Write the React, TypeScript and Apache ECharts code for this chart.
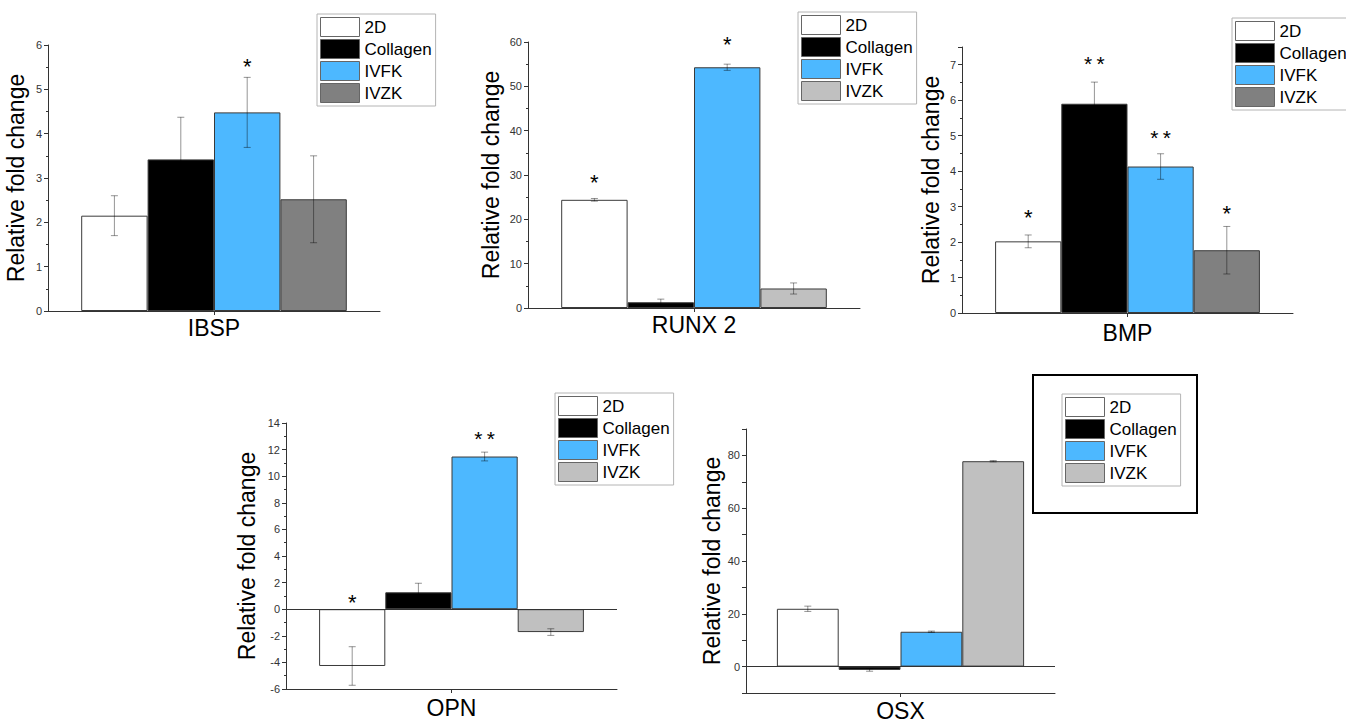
import React, { useEffect, useRef } from 'react';
import * as echarts from 'echarts';

const groups = ['2D', 'Collagen', 'IVFK', 'IVZK'];
const genes = ['IBSP', 'RUNX 2', 'BMP', 'OPN', 'OSX'];

const ibspValues = [2.15, 3.42, 4.48, 2.52];
const ibspErrors = [0.45, 0.95, 0.79, 0.98];
const runxValues = [24.4, 1.3, 54.3, 4.4];
const runxErrors = [0.3, 0.7, 0.7, 1.25];
const bmpValues = [2.02, 5.9, 4.13, 1.77];
const bmpErrors = [0.18, 0.61, 0.36, 0.67];
const opnValues = [-4.27, 1.27, 11.48, -1.72];
const opnErrors = [1.45, 0.68, 0.33, 0.25];
const osxValues = [21.9, -1.25, 13.2, 77.8];
const osxErrors = [1.0, 0.5, 0.25, 0.25];

// significance marks: [group index, level, mark]
const ibspStars: [number, number, string][] = [[2, 5.64, '*']];
const runxStars: [number, number, string][] = [[0, 29.6, '*'], [2, 60.8, '*']];
const bmpStars: [number, number, string][] = [[0, 2.87, '*'], [1, 7.2, '**'], [2, 5.13, '**'], [3, 2.97, '*']];
const opnStars: [number, number, string][] = [[0, 0.95, '*'], [2, 13.3, '**']];
const osxStars: [number, number, string][] = [];

const darkPalette = ['#ffffff', '#000000', '#4db8ff', '#808080'];
const lightPalette = ['#ffffff', '#000000', '#4db8ff', '#c0c0c0'];

const FONT = '"Liberation Sans", Arial, Helvetica, sans-serif';

type Panel = {
  gene: string;
  values: number[];
  errors: number[];
  stars: [number, number, string][];
  palette: string[];
  grid: { left: number; top: number; width: number; height: number };
  y: { min: number; max: number; interval: number; minor: boolean; fmt?: (v: number) => string; hideMax?: boolean };
  legend: { left: number; top: number };
  nameGap: number;
  labelMargin: number;
  zeroLine: boolean;
};

const panels: Panel[] = [
  {
    gene: genes[0], values: ibspValues, errors: ibspErrors, stars: ibspStars, palette: darkPalette,
    grid: { left: 48, top: 45, width: 332, height: 266 },
    y: { min: 0, max: 6, interval: 1, minor: true },
    legend: { left: 317, top: 14 }, nameGap: 21, labelMargin: 5, zeroLine: false,
  },
  {
    gene: genes[1], values: runxValues, errors: runxErrors, stars: runxStars, palette: lightPalette,
    grid: { left: 528, top: 42, width: 332, height: 266 },
    y: { min: 0, max: 60, interval: 10, minor: true },
    legend: { left: 798, top: 12 }, nameGap: 26, labelMargin: 5, zeroLine: false,
  },
  {
    gene: genes[2], values: bmpValues, errors: bmpErrors, stars: bmpStars, palette: darkPalette,
    grid: { left: 962, top: 47, width: 331, height: 266 },
    y: { min: 0, max: 7.5, interval: 1, minor: true, hideMax: true },
    legend: { left: 1232, top: 18 }, nameGap: 20, labelMargin: 8, zeroLine: false,
  },
  {
    gene: genes[3], values: opnValues, errors: opnErrors, stars: opnStars, palette: lightPalette,
    grid: { left: 286, top: 423, width: 331, height: 266 },
    y: { min: -6, max: 14, interval: 2, minor: true },
    legend: { left: 555, top: 393 }, nameGap: 28, labelMargin: 7, zeroLine: true,
  },
  {
    gene: genes[4], values: osxValues, errors: osxErrors, stars: osxStars, palette: lightPalette,
    grid: { left: 746, top: 429, width: 309, height: 266 },
    y: {
      min: -10, max: 90, interval: 10, minor: false,
      fmt: (v: number) => (v % 20 === 0 && v >= 0 && v <= 80 ? String(v) : ''),
    },
    legend: { left: 1062, top: 394 }, nameGap: 23, labelMargin: 6, zeroLine: true,
  },
];

function buildOption() {
  const grid: any[] = [];
  const xAxis: any[] = [];
  const yAxis: any[] = [];
  const legend: any[] = [];
  const series: any[] = [];

  panels.forEach((p, pi) => {
    grid.push({ ...p.grid, containLabel: false });
    xAxis.push({
      type: 'category',
      gridIndex: pi,
      data: [p.gene],
      boundaryGap: true,
      axisLine: { onZero: false, lineStyle: { color: '#333', width: 1 } },
      axisTick: { show: true, alignWithLabel: true, length: 4, lineStyle: { color: '#333' } },
      axisLabel: { fontSize: 23, color: '#000', margin: p.labelMargin, fontFamily: FONT },
      splitLine: { show: false },
    });
    yAxis.push({
      type: 'value',
      gridIndex: pi,
      min: p.y.min,
      max: p.y.max,
      interval: p.y.interval,
      name: 'Relative fold change',
      nameLocation: 'middle',
      nameGap: p.nameGap,
      nameTextStyle: { fontSize: 23, color: '#000', fontFamily: FONT },
      axisLine: { show: true, lineStyle: { color: '#333', width: 1 } },
      axisTick: { show: true, length: 4, lineStyle: { color: '#333' } },
      minorTick: { show: p.y.minor, splitNumber: 2, length: 2, lineStyle: { color: '#333' } },
      axisLabel: {
        fontSize: 11,
        color: '#333',
        margin: 6,
        fontFamily: FONT,
        showMaxLabel: p.y.hideMax ? false : undefined,
        formatter: p.y.fmt ? p.y.fmt : (v: number) => String(v),
      },
      splitLine: { show: false },
      minorSplitLine: { show: false },
    });
    legend.push({
      orient: 'vertical',
      left: p.legend.left,
      top: p.legend.top,
      itemWidth: 39,
      itemHeight: 19,
      itemGap: 2,
      padding: [3, 4, 3, 3],
      borderColor: '#b4b4b4',
      borderWidth: 1,
      backgroundColor: '#ffffff',
      icon: 'rect',
      selectedMode: false,
      textStyle: { fontSize: 17, color: '#000', lineHeight: 19, fontFamily: FONT },
      data: groups.map((g, i) => ({
        name: g,
        icon: 'rect',
        itemStyle: { color: p.palette[i], borderColor: '#666', borderWidth: 1 },
      })),
    });

    groups.forEach((g, i) => {
      const s: any = {
        type: 'bar',
        name: g,
        xAxisIndex: pi,
        yAxisIndex: pi,
        data: [p.values[i]],
        barGap: '0%',
        barCategoryGap: '20%',
        itemStyle: { color: p.palette[i], borderColor: '#3a3a3a', borderWidth: 1 },
        z: 2,
        silent: true,
      };
      if (i === 0 && p.zeroLine) {
        s.markLine = {
          silent: true,
          symbol: 'none',
          label: { show: false },
          lineStyle: { color: '#333', type: 'solid', width: 1 },
          data: [{ yAxis: 0 }],
        };
      }
      series.push(s);
    });

    series.push({
      type: 'custom',
      xAxisIndex: pi,
      yAxisIndex: pi,
      z: 5,
      silent: true,
      data: p.values.map((v, i) => [0, i, v - p.errors[i], v + p.errors[i]]),
      encode: { x: 0, y: [2, 3] },
      renderItem: (params: any, api: any) => {
        const i = api.value(1);
        const lo = api.coord([0, api.value(2)]);
        const hi = api.coord([0, api.value(3)]);
        const band = api.size([1, 0])[0];
        const x = lo[0] + (i - 1.5) * band * 0.2;
        const cap = 3.5;
        const style = { stroke: 'rgba(0,0,0,0.42)', lineWidth: 1 };
        return {
          type: 'group',
          children: [
            { type: 'line', shape: { x1: x, y1: lo[1], x2: x, y2: hi[1] }, style },
            { type: 'line', shape: { x1: x - cap, y1: lo[1], x2: x + cap, y2: lo[1] }, style },
            { type: 'line', shape: { x1: x - cap, y1: hi[1], x2: x + cap, y2: hi[1] }, style },
          ],
        };
      },
    });

    if (p.stars.length) {
      series.push({
        type: 'custom',
        xAxisIndex: pi,
        yAxisIndex: pi,
        z: 6,
        silent: true,
        clip: false,
        data: p.stars.map((s) => [0, s[0], s[1]]),
        encode: { x: 0, y: 2 },
        renderItem: (params: any, api: any) => {
          const i = api.value(1);
          const pt = api.coord([0, api.value(2)]);
          const band = api.size([1, 0])[0];
          const x = pt[0] + (i - 1.5) * band * 0.2;
          const mark = p.stars[params.dataIndex][2];
          const size = mark.length > 1 ? 21 : 22;
          return {
            type: 'text',
            x,
            y: pt[1] + 6,
            style: {
              text: mark.length > 1 ? mark.split('').join('\u2009') : mark,
              fill: '#000',
              fontSize: size,
              fontFamily: FONT,
              align: 'center',
              verticalAlign: 'middle',
            },
          };
        },
      });
    }
  });

  return {
    animation: false,
    backgroundColor: '#ffffff',
    textStyle: { fontFamily: FONT },
    grid,
    xAxis,
    yAxis,
    legend,
    series,
    graphic: [
      {
        type: 'rect',
        shape: { x: 1033, y: 375, width: 164, height: 138 },
        style: { fill: 'none', stroke: '#000', lineWidth: 2 },
        z: 0,
        silent: true,
      },
    ],
  };
}

export default function App() {
  const ref = useRef<HTMLDivElement>(null);
  useEffect(() => {
    if (!ref.current) return;
    const chart = echarts.init(ref.current, undefined, { renderer: 'svg' });
    chart.setOption(buildOption() as any);
    return () => chart.dispose();
  }, []);
  return (
    <div
      ref={ref}
      style={{ position: 'absolute', left: 0, top: 0, width: 1346, height: 722, background: '#fff' }}
    />
  );
}
